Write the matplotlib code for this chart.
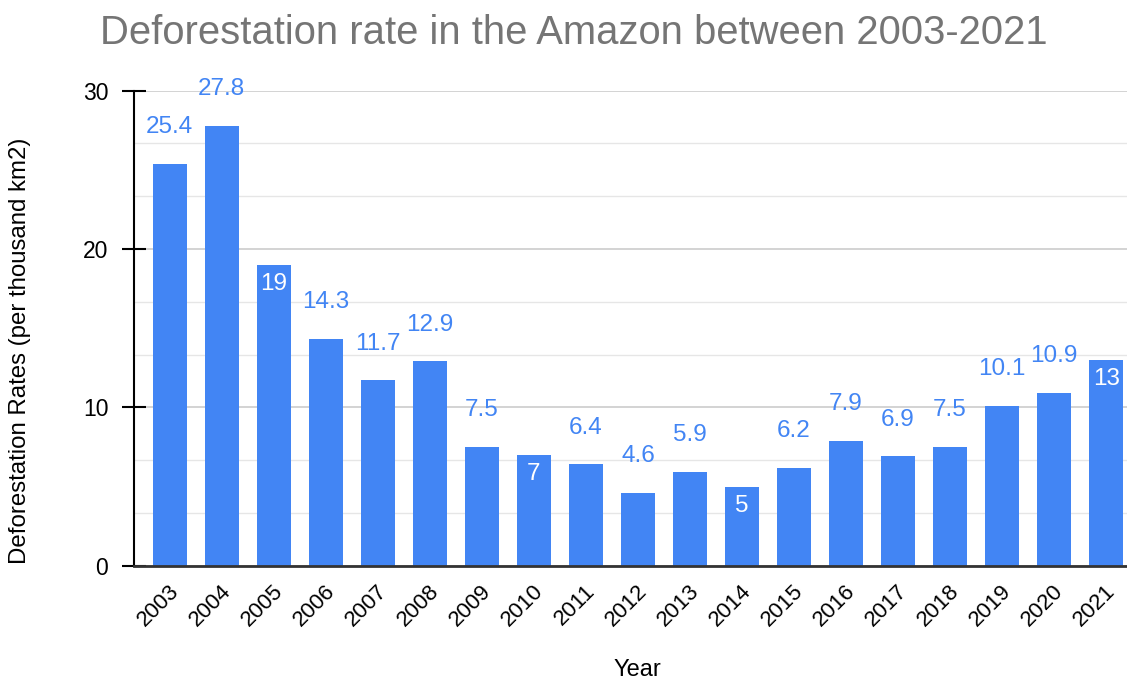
"""
Bar chart: deforestation rate in the Amazon, 2003-2021.
"""

import matplotlib
matplotlib.use('Agg')
import matplotlib.pyplot as plt
import matplotlib.transforms as mtransforms
from matplotlib.ticker import MultipleLocator

plt.rcParams['font.family'] = ['Liberation Sans', 'DejaVu Sans']

# Data
years = ['2003', '2004', '2005', '2006', '2007', '2008', '2009', '2010', '2011', '2012',
         '2013', '2014', '2015', '2016', '2017', '2018', '2019', '2020', '2021']
rates = [25.4, 27.8, 19, 14.3, 11.7, 12.9, 7.5, 7, 6.4, 4.6,
         5.9, 5, 6.2, 7.9, 6.9, 7.5, 10.1, 10.9, 13]
# labels drawn inside the bar (white) instead of above it
inside_labels = ['2005', '2010', '2014', '2021']

BLUE = '#4285F4'
W, H = 1127, 682

fig = plt.figure(figsize=(W / 100, H / 100), dpi=100)
ax = fig.add_axes([134 / W, 116.3 / H, 993 / W, 475 / H])

x = list(range(len(years)))
ax.bar(x, rates, width=0.654, color=BLUE, zorder=3)

ax.set_xlim(-0.687, 18.4)
ax.set_ylim(0, 30)

# Gridlines
ax.yaxis.set_major_locator(MultipleLocator(10))
ax.yaxis.set_minor_locator(MultipleLocator(10 / 3))
ax.grid(which='major', axis='y', color='#cccccc', linewidth=1.2, zorder=0)
ax.grid(which='minor', axis='y', color='#e6e6e6', linewidth=1.0, zorder=0)
ax.grid(which='major', axis='x', visible=False)

# Spines
for s in ('top', 'right'):
    ax.spines[s].set_visible(False)
ax.spines['left'].set_color('black')
ax.spines['left'].set_linewidth(1.5)
ax.spines['bottom'].set_color('#333333')
ax.spines['bottom'].set_linewidth(2)
ax.spines['bottom'].set_zorder(5)

# Ticks
ax.tick_params(axis='y', which='major', direction='inout', length=17, width=1.5,
               color='black', labelsize=16.5, pad=10)
ax.tick_params(axis='y', which='minor', length=0)
ax.tick_params(axis='x', length=0, labelsize=16, pad=16)
ax.set_xticks(x)
ax.set_xticklabels(years, rotation=45, ha='right', va='center', rotation_mode='anchor')
shift = mtransforms.ScaledTranslation(6 / 100, 0, fig.dpi_scale_trans)
for lbl in ax.get_xticklabels():
    lbl.set_transform(lbl.get_transform() + shift)

# Value labels
for xi, year, v in zip(x, years, rates):
    if year in inside_labels:
        ax.annotate(f'{v:g}', (xi, v), xytext=(0, -13.7), textcoords='offset points',
                    ha='center', va='center', fontsize=17.5, color='white', zorder=6)
    else:
        ax.annotate(f'{v:g}', (xi, v), xytext=(0, 26.5), textcoords='offset points',
                    ha='center', va='center', fontsize=17.5, color=BLUE, zorder=6,
                    annotation_clip=False)

# Titles
fig.text(574 / W, 1 - 33 / H, 'Deforestation rate in the Amazon between 2003-2021',
         ha='center', va='center', fontsize=28.8, color='#757575')
fig.text(20 / W, 1 - 351 / H, 'Deforestation Rates (per thousand km2)',
         rotation=90, ha='center', va='center', fontsize=17.3, color='black')
fig.text(637 / W, 1 - 670 / H, 'Year', ha='center', va='center', fontsize=17,
         color='black')

fig.savefig('out.png', dpi=100)
plt.close(fig)
